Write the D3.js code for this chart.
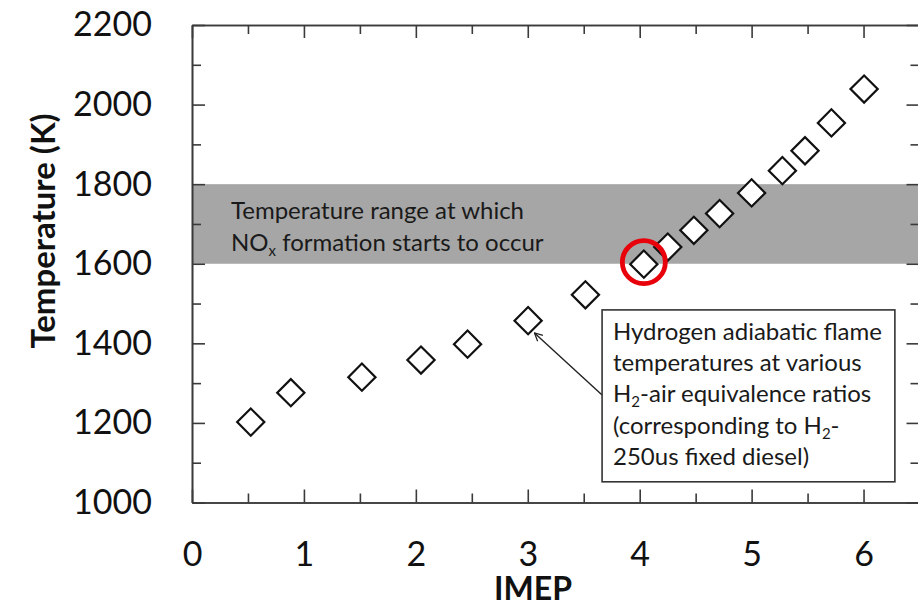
<!DOCTYPE html>
<html>
<head>
<meta charset="utf-8">
<script src="https://cdn.jsdelivr.net/npm/d3@7"></script>
<style>
  body { margin: 0; background: #fff; }
  svg { display: block; font-family: Lato, "Open Sans", sans-serif; }
</style>
</head>
<body>
<svg id="chart" width="918" height="607"></svg>
<script>
"use strict"

// values
const imep = [0.525, 0.883, 1.518, 2.046, 2.462, 3.003, 3.515, 4.037, 4.251, 4.484, 4.714, 5.0, 5.275, 5.477, 5.713, 6.005];
const temperature = [1202, 1276, 1315, 1358, 1398, 1457, 1522, 1599, 1642, 1684, 1726, 1778, 1834, 1884, 1954, 2039];
const noxBand = [1600, 1800];
const highlighted = 7;
const xMajor = [0, 1, 2, 3, 4, 5, 6];
const xMinor = [0.5, 1.5, 2.5, 3.5, 4.5, 5.5, 6.5];
const yMajor = [1000, 1200, 1400, 1600, 1800, 2000, 2200];
const yMinor = [1100, 1300, 1500, 1700, 1900, 2100];
const arrowFrom = [3.664, 1270];
const arrowTo = [3.06, 1426];
const noteBox = { x0: 3.664, x1: 6.28, t0: 1484, t1: 1052 };

const svg = d3.select("#chart");
const plotLeft = 192, plotRight = 919.5, plotTop = 25, plotBottom = 502.5;

const x = d3.scaleLinear().domain([0, 6.5]).range([plotLeft, plotRight]);
const y = d3.scaleLinear().domain([1000, 2200]).range([plotBottom, plotTop]);

const axisColor = "#3a3a3a";

// NOx band
svg.append("rect")
    .attr("x", plotLeft)
    .attr("width", plotRight - plotLeft)
    .attr("y", y(noxBand[1]))
    .attr("height", y(noxBand[0]) - y(noxBand[1]))
    .attr("fill", "#a6a6a6");

function styleAxis(g) {
    g.select(".domain").attr("stroke", axisColor).attr("stroke-width", 1.6);
    g.selectAll(".tick line").attr("stroke", axisColor).attr("stroke-width", 1.6);
    g.selectAll(".tick text")
        .attr("fill", "#111")
        .attr("font-size", 34)
        .attr("font-family", "Lato, sans-serif");
}

// minor ticks first, then majors
svg.append("g").attr("transform", `translate(0,${plotBottom})`)
    .call(d3.axisBottom(x).tickValues(xMinor).tickSizeInner(-9).tickSizeOuter(0).tickFormat(""))
    .call(styleAxis);
svg.append("g").attr("transform", `translate(0,${plotBottom})`)
    .call(d3.axisBottom(x).tickValues(xMajor).tickSizeInner(-13).tickSizeOuter(0).tickPadding(39).tickFormat(d3.format("d")))
    .call(styleAxis);

svg.append("g").attr("transform", `translate(0,${plotTop})`)
    .call(d3.axisTop(x).tickValues(xMinor).tickSizeInner(-9).tickSizeOuter(0).tickFormat(""))
    .call(styleAxis);
svg.append("g").attr("transform", `translate(0,${plotTop})`)
    .call(d3.axisTop(x).tickValues(xMajor).tickSizeInner(-13).tickSizeOuter(0).tickFormat(""))
    .call(styleAxis);

svg.append("g").attr("transform", `translate(${plotLeft},0)`)
    .call(d3.axisLeft(y).tickValues(yMinor).tickSizeInner(-9).tickSizeOuter(0).tickFormat(""))
    .call(styleAxis);
svg.append("g").attr("transform", `translate(${plotLeft},0)`)
    .call(d3.axisLeft(y).tickValues(yMajor).tickSizeInner(-13).tickSizeOuter(0).tickPadding(40).tickFormat(d3.format("d")))
    .call(styleAxis);

svg.append("g").attr("transform", `translate(${plotRight},0)`)
    .call(d3.axisRight(y).tickValues(yMinor).tickSizeInner(-9).tickSizeOuter(0).tickFormat(""))
    .call(styleAxis);
svg.append("g").attr("transform", `translate(${plotRight},0)`)
    .call(d3.axisRight(y).tickValues(yMajor).tickSizeInner(-13).tickSizeOuter(0).tickFormat(""))
    .call(styleAxis);

// band label
const bandText = svg.append("text")
    .attr("font-size", 24)
    .attr("fill", "#1a1a1a");
bandText.append("tspan").attr("x", 231).attr("y", 219).text("Temperature range at which");
const l2 = bandText.append("tspan").attr("x", 231).attr("y", 251);
l2.append("tspan").text("NO");
l2.append("tspan").attr("font-size", 15).attr("dy", 5).text("x");
l2.append("tspan").attr("dy", -5).text(" formation starts to occur");

// annotation box and arrow
svg.append("defs").append("marker")
    .attr("id", "arrow")
    .attr("viewBox", "0 0 10 10")
    .attr("refX", 9).attr("refY", 5)
    .attr("markerWidth", 7).attr("markerHeight", 7)
    .attr("orient", "auto")
    .append("path")
    .attr("d", "M1,1 L9,5 L1,9")
    .attr("fill", "none")
    .attr("stroke", "#222")
    .attr("stroke-width", 1.3);

svg.append("line")
    .attr("x1", x(arrowFrom[0])).attr("y1", y(arrowFrom[1]))
    .attr("x2", x(arrowTo[0])).attr("y2", y(arrowTo[1]))
    .attr("stroke", "#222")
    .attr("stroke-width", 1.4)
    .attr("marker-end", "url(#arrow)");

svg.append("rect")
    .attr("x", x(noteBox.x0))
    .attr("y", y(noteBox.t0))
    .attr("width", x(noteBox.x1) - x(noteBox.x0))
    .attr("height", y(noteBox.t1) - y(noteBox.t0))
    .attr("fill", "#fff")
    .attr("stroke", "#333")
    .attr("stroke-width", 1.6);

const note = svg.append("text").attr("font-size", 24).attr("fill", "#1a1a1a");
const tx = 613;
note.append("tspan").attr("x", tx).attr("y", 340).text("Hydrogen adiabatic flame");
note.append("tspan").attr("x", tx).attr("y", 371).text("temperatures at various");
const n3 = note.append("tspan").attr("x", tx).attr("y", 402);
n3.append("tspan").text("H");
n3.append("tspan").attr("font-size", 15).attr("dy", 5).text("2");
n3.append("tspan").attr("dy", -5).text("-air equivalence ratios");
const n4 = note.append("tspan").attr("x", tx).attr("y", 434);
n4.append("tspan").text("(corresponding to H");
n4.append("tspan").attr("font-size", 15).attr("dy", 5).text("2");
n4.append("tspan").attr("dy", -5).text("-");
note.append("tspan").attr("x", tx).attr("y", 465).text("250us fixed diesel)");

// data points
const diamond = d3.symbol().type(d3.symbolSquare).size(370);
svg.append("g")
    .selectAll("path")
    .data(d3.zip(imep, temperature))
    .join("path")
    .attr("d", diamond)
    .attr("transform", d => `translate(${x(d[0])},${y(d[1])}) rotate(45)`)
    .attr("fill", "#fff")
    .attr("stroke", "#111")
    .attr("stroke-width", 2.2);

// highlight circle
svg.append("circle")
    .attr("cx", x(imep[highlighted]))
    .attr("cy", y(temperature[highlighted]) - 2)
    .attr("r", 21.5)
    .attr("fill", "none")
    .attr("stroke", "#e8000b")
    .attr("stroke-width", 4.8);

// axis titles
svg.append("text")
    .attr("x", 533).attr("y", 600)
    .attr("text-anchor", "middle")
    .attr("font-size", 32)
    .attr("font-weight", "bold")
    .attr("fill", "#111")
    .text("IMEP");

svg.append("text")
    .attr("transform", "translate(55,231) rotate(-90)")
    .attr("text-anchor", "middle")
    .attr("font-size", 33)
    .attr("font-weight", "bold")
    .attr("fill", "#111")
    .text("Temperature (K)");
</script>
</body>
</html>
